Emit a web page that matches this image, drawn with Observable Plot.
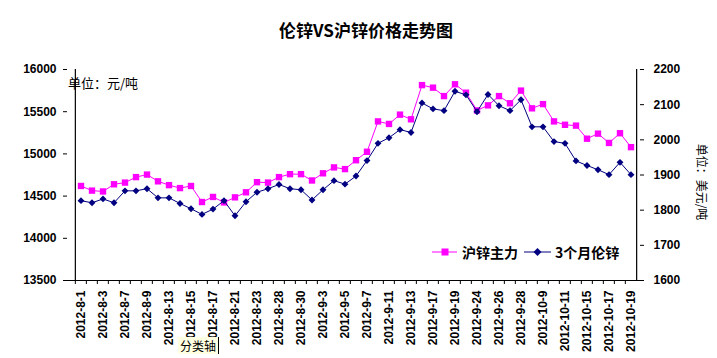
<!DOCTYPE html>
<html>
<head>
<meta charset="utf-8">
<script src="https://cdn.jsdelivr.net/npm/d3@7"></script>
<script src="https://cdn.jsdelivr.net/npm/@observablehq/plot@0.6"></script>
<style>
  html, body { margin: 0; padding: 0; background: #fff; }
  #wrap { position: relative; width: 717px; height: 358px; overflow: hidden; background: #fff; }
  #wrap svg { position: absolute; left: 0; top: 0; }
  .ov { position: absolute; white-space: nowrap; color: #000; }
  .cjk { font-family: "Noto Sans CJK SC", sans-serif; }
</style>
</head>
<body>
<div id="wrap">
  <div class="ov cjk" style="left:216px;top:18px;width:300px;text-align:center;font-size:17px;font-weight:bold;line-height:24px;">伦锌VS沪锌价格走势图</div>
  <div class="ov cjk" style="left:68px;top:74px;font-size:13px;line-height:18px;">单位：元/吨</div>
  <div class="ov cjk" style="left:662px;top:174px;width:80px;text-align:center;font-size:12px;line-height:16px;transform:rotate(90deg);transform-origin:40px 8px;">单位：美元/吨</div>
  <div class="ov" id="legend" style="left:430px;top:241px;height:22px;"></div>
  <div class="ov cjk" style="left:178px;top:337px;font-size:12px;line-height:17px;padding:0 2px;background:#FFFFE1;border-right:1px solid #000;">分类轴</div>
</div>
<script>
// categories (trading days); every other one is labelled
const dates = [
  "2012-8-1","2012-8-2","2012-8-3","2012-8-6","2012-8-7","2012-8-8","2012-8-9","2012-8-10",
  "2012-8-13","2012-8-14","2012-8-15","2012-8-16","2012-8-17","2012-8-20","2012-8-21","2012-8-22",
  "2012-8-23","2012-8-24","2012-8-28","2012-8-29","2012-8-30","2012-8-31","2012-9-3","2012-9-4",
  "2012-9-5","2012-9-6","2012-9-7","2012-9-10","2012-9-11","2012-9-12","2012-9-13","2012-9-14",
  "2012-9-17","2012-9-18","2012-9-19","2012-9-20","2012-9-24","2012-9-25","2012-9-26","2012-9-27",
  "2012-9-28","2012-10-8","2012-10-9","2012-10-10","2012-10-11","2012-10-12","2012-10-15","2012-10-16",
  "2012-10-17","2012-10-18","2012-10-19"
];
const tickLabels = [
  "2012-8-1","2012-8-3","2012-8-7","2012-8-9","2012-8-13","2012-8-15","2012-8-17","2012-8-21",
  "2012-8-23","2012-8-28","2012-8-30","2012-9-3","2012-9-5","2012-9-7","2012-9-11","2012-9-13",
  "2012-9-17","2012-9-19","2012-9-24","2012-9-26","2012-9-28","2012-10-9","2012-10-11","2012-10-15",
  "2012-10-17","2012-10-19"
];
// 沪锌主力 (元/吨, left axis)
const shZinc = [
  14620,14565,14555,14640,14660,14725,14755,14675,14630,14595,
  14620,14430,14490,14425,14485,14545,14665,14660,14725,14760,
  14760,14685,14770,14840,14820,14925,15025,15385,15355,15465,
  15410,15815,15785,15685,15825,15725,15515,15575,15685,15600,
  15750,15540,15590,15385,15345,15335,15180,15240,15130,15245,15080
];
// 3个月伦锌 (美元/吨, right axis)
const lmeZinc = [
  1827,1821,1832,1821,1855,1855,1861,1835,1835,1819,
  1804,1788,1803,1827,1784,1824,1851,1861,1873,1861,
  1858,1829,1858,1884,1874,1897,1941,1990,2006,2029,
  2021,2105,2088,2083,2138,2128,2080,2129,2097,2083,
  2114,2037,2037,1995,1990,1940,1927,1915,1901,1936,1901
];
const leftTicks = [13500,14000,14500,15000,15500,16000];
const rightTicks = [1600,1700,1800,1900,2000,2100,2200];
const seriesNames = ["沪锌主力","3个月伦锌"];
const colors = ["#FF00FF","#000080"];

const L = [13500,16000], R = [1600,2200];
const toLeft = v => L[0] + (v - R[0]) * (L[1]-L[0]) / (R[1]-R[0]);
const fromLeft = v => R[0] + (v - L[0]) * (R[1]-R[0]) / (L[1]-L[0]);

const sh = dates.map((d,i) => ({date: d, value: shZinc[i]}));
const lme = dates.map((d,i) => ({date: d, value: toLeft(lmeZinc[i])}));

const W = 717, H = 358, mL = 67, mR = 74, mT = 69, mB = 78;
const bw = (W - mL - mR) / dates.length;

const chart = Plot.plot({
  width: W, height: H,
  marginLeft: mL, marginRight: mR, marginTop: mT, marginBottom: mB,
  style: {fontFamily: "'Liberation Sans', Arial, sans-serif", fontSize: "12px", fontWeight: "bold", color: "#000", background: "transparent", overflow: "visible"},
  x: {type: "band", domain: dates, padding: 0, axis: null},
  y: {domain: L, axis: null},
  marks: [
    Plot.axisY(leftTicks, {anchor: "left", label: null, tickSize: 4, tickPadding: 7, tickFormat: d => String(d), stroke: "#000"}),
    Plot.axisY(rightTicks.map(toLeft), {anchor: "right", label: null, tickSize: 0, tickPadding: 10, tickFormat: d => String(Math.round(fromLeft(d)))}),
    Plot.axisY(rightTicks.map(toLeft), {anchor: "right", label: null, text: null, tickSize: 4, dx: -4, stroke: "#000"}),
    Plot.axisX(tickLabels, {anchor: "bottom", label: null, tickSize: 0, tickPadding: 10, tickRotate: -90}),
    Plot.axisX(dates, {anchor: "bottom", label: null, text: null, tickSize: 4, dx: -bw/2, stroke: "#000"}),
    Plot.ruleY([L[0]], {stroke: "#000", strokeWidth: 1.2}),
    Plot.ruleX([dates[0]], {dx: -bw/2, stroke: "#000", strokeWidth: 1.2}),
    Plot.ruleX([dates[dates.length-1]], {dx: bw/2, stroke: "#000", strokeWidth: 1.2}),
    Plot.line(sh, {x: "date", y: "value", stroke: colors[0], strokeWidth: 1}),
    Plot.dot(sh, {x: "date", y: "value", symbol: "square", r: 3.6, fill: colors[0], stroke: "none"}),
    Plot.line(lme, {x: "date", y: "value", stroke: colors[1], strokeWidth: 1}),
    Plot.dot(lme, {x: "date", y: "value", symbol: "diamond2", r: 3.1, fill: colors[1], stroke: "none"})
  ]
});
document.getElementById("wrap").prepend(chart);

// legend
const lg = document.getElementById("legend");
lg.innerHTML = `
<svg width="200" height="22" style="position:absolute;left:0;top:0;overflow:visible">
  <line x1="2" x2="27" y1="11" y2="11" stroke="${colors[0]}" stroke-width="1"/>
  <rect x="11.5" y="7.5" width="7" height="7" fill="${colors[0]}"/>
  <line x1="94" x2="121" y1="11" y2="11" stroke="${colors[1]}" stroke-width="1"/>
  <path d="M107.5,7 L111.5,11 L107.5,15 L103.5,11 Z" fill="${colors[1]}"/>
</svg>
<span class="cjk" style="position:absolute;left:32px;top:0;font-size:14px;font-weight:bold;line-height:22px;">${seriesNames[0]}</span>
<span class="cjk" style="position:absolute;left:125px;top:0;font-size:14px;font-weight:bold;line-height:22px;">${seriesNames[1]}</span>`;
</script>
</body>
</html>
